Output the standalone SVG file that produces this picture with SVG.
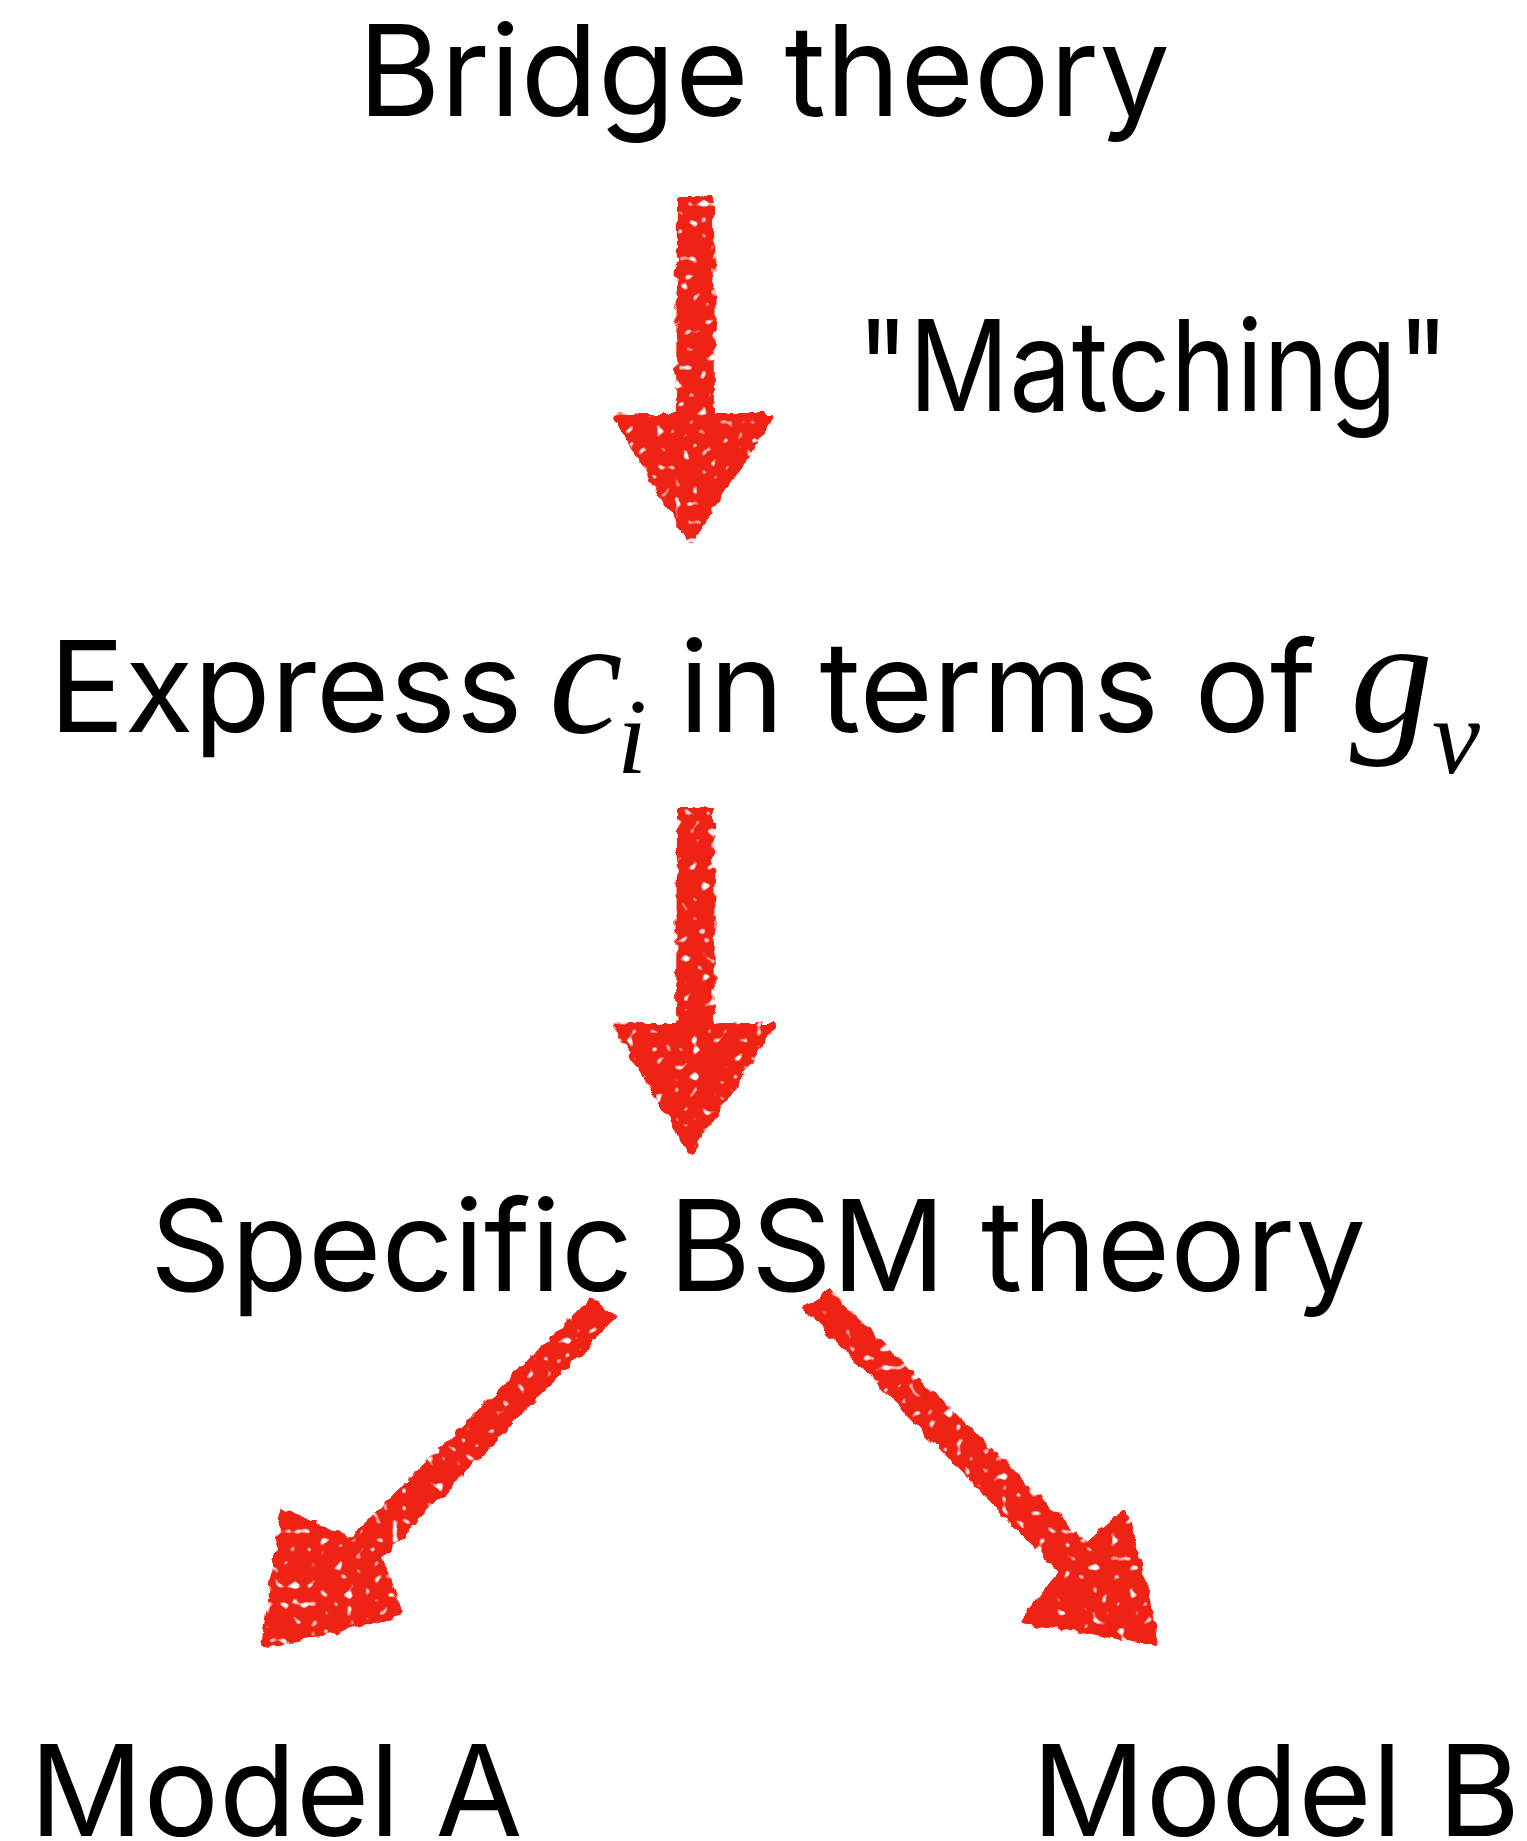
<svg xmlns="http://www.w3.org/2000/svg" width="1527" height="1841" viewBox="0 0 1527 1841">
<style>
.t{font-family:Inter,"Liberation Sans",sans-serif;fill:#000;font-size:126px}
.m{font-family:"Liberation Serif","Times New Roman",serif;font-style:italic;fill:#000}
.arrow{fill:#ef2312;stroke:#ef2312;stroke-width:6;stroke-linejoin:round;filter:url(#rough)}
</style>
<defs>
<filter id="rough" x="-20%" y="-20%" width="140%" height="140%">
<feTurbulence type="fractalNoise" baseFrequency="0.09" numOctaves="2" seed="3" result="n"/>
<feDisplacementMap in="SourceGraphic" in2="n" scale="10" xChannelSelector="R" yChannelSelector="G" result="d"/>
<feTurbulence type="fractalNoise" baseFrequency="0.11" numOctaves="1" seed="11" result="spk"/>
<feColorMatrix in="spk" type="matrix" values="0 0 0 0 0  0 0 0 0 0  0 0 0 0 0  10 0 0 0 -6.4" result="holes"/>
<feComposite in="d" in2="holes" operator="out"/>
</filter>
</defs>
<rect width="1527" height="1841" fill="#fff"/>
<g id="node-bridge"><text class="t" x="764" y="116" text-anchor="middle" textLength="812" lengthAdjust="spacing">Bridge theory</text></g>
<g id="node-express">
<text class="t" x="49" y="732">Express</text>
<text class="m" x="549" y="732" font-size="166">c</text>
<text class="m" x="617" y="773" font-size="108">i</text>
<text class="t" x="679" y="732">in terms of</text>
<text class="m" x="1350" y="732" font-size="166">g</text>
<text class="m" x="1432" y="773" font-size="108">v</text>
</g>
<g id="node-bsm"><text class="t" x="758" y="1291" text-anchor="middle">Specific BSM theory</text></g>
<g id="node-modelA"><text class="t" x="276" y="1836" text-anchor="middle">Model A</text></g>
<g id="node-modelB"><text class="t" x="1276" y="1836" text-anchor="middle">Model B</text></g>
<g id="connectors">
<path class="arrow" d="M680 200 L711 200 L712 416 L772 416 L690 540 L616 416 L679 416 Z"/>
<text id="label-matching" class="t" x="1153" y="411" text-anchor="middle" font-size="108" textLength="592" lengthAdjust="spacingAndGlyphs">"Matching"</text>
<path class="arrow" d="M680 810 L711 810 L712 1026 L772 1026 L690 1150 L616 1026 L679 1026 Z"/>
<path class="arrow" d="M592 1300 L612 1318 L380 1556 L400 1614 L264 1646 L284 1512 L352 1540 Z"/>
<path class="arrow" d="M808 1308 L828 1292 L1086 1546 L1125 1512 L1157 1643 L1024 1620 L1062 1572 Z"/>
</g>
</svg>
